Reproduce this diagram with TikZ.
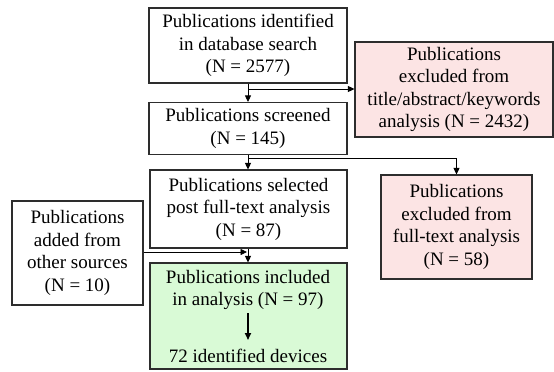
\documentclass[tikz,border=0pt]{standalone}
\usepackage{fontspec}
\setmainfont{Liberation Serif}
\usetikzlibrary{arrows.meta}
\definecolor{bordc}{RGB}{45,45,45}
\definecolor{pinkc}{RGB}{252,228,228}
\definecolor{greenc}{RGB}{217,250,214}
\begin{document}
\begin{tikzpicture}[x=1pt,y=-1pt,
  box/.style={draw=bordc,line width=1.1pt,align=center,inner sep=0pt,
    font=\fontsize{19}{22.5}\selectfont,anchor=center},
  pinkbox/.style={box,fill=pinkc},
  greenbox/.style={box,fill=greenc},
  txt/.style={align=center,inner sep=0pt,font=\fontsize{19}{22.5}\selectfont},
  arr/.style={draw=black,line width=0.8pt,-{Triangle[length=6.5pt,width=6pt]}},
  thickarr/.style={draw=black,line width=1.6pt,-{Triangle[length=7pt,width=6pt]}}]
\useasboundingbox (0,0) rectangle (554,372);
\node[box,minimum width=198pt,minimum height=75pt] (ident) at (248,45.5)
  {Publications identified\\in database search\\(N = 2577)};
\node[box,minimum width=198pt,minimum height=52pt] (scr) at (248,128.5)
  {Publications screened\\(N = 145)};
\node[pinkbox,minimum width=198pt,minimum height=95pt] (exc1) at (454,89.5)
  {Publications\\excluded from\\title/abstract/keywords\\analysis (N = 2432)};
\node[pinkbox,minimum width=151pt,minimum height=104pt] (exc2) at (456.5,227)
  {Publications\\excluded from\\full-text analysis\\(N = 58)};
\node[box,minimum width=197pt,minimum height=78pt] (sel) at (248.5,209)
  {Publications selected\\post full-text analysis\\(N = 87)};
\node[box,minimum width=131pt,minimum height=104pt] (add) at (77.5,253)
  {Publications\\added from\\other sources\\(N = 10)};
\node[greenbox,minimum width=197pt,minimum height=106pt] (inc) at (248.5,316) {};
\node[txt] (inctxt) at (248,290) {Publications included\\in analysis (N = 97)};
\node[txt] (dev) at (248,356) {72 identified devices};
\draw[thickarr] (248,313) -- (248,340);
% connectors
\coordinate (j1) at (248,89);
\coordinate (j2) at (248,158);
\draw[arr] (ident.south -| j1) -- (scr.north -| j1);
\draw[arr] (j1) -- (exc1.west |- j1);
\draw[arr] (scr.south -| j2) -- (sel.north -| j2);
\draw[arr] (j2) -| (exc2.north);
\draw[arr] (sel.south -| j2) -- (inc.north -| j2);
\coordinate (j3) at (247,252);
\draw[arr] (add.east |- j3) -- (j3);
\end{tikzpicture}
\end{document}
